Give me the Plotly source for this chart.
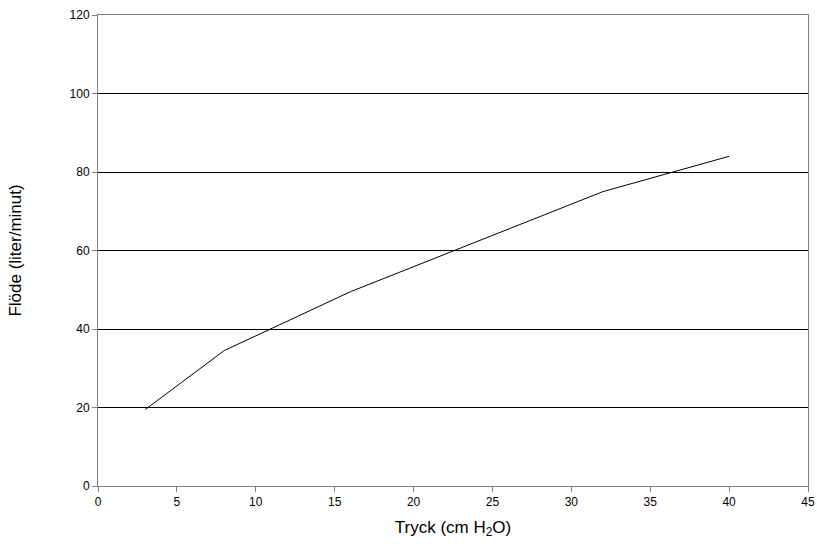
import plotly.graph_objects as go

tryck = [3, 8, 16, 32, 40]
flode = [19.5, 34.5, 49.5, 75, 84]

x_ticks = [0, 5, 10, 15, 20, 25, 30, 35, 40, 45]
y_ticks = [0, 20, 40, 60, 80, 100, 120]

fig = go.Figure()

fig.add_trace(go.Scatter(
    x=tryck,
    y=flode,
    mode='lines',
    line=dict(color='black', width=1),
    showlegend=False,
))

fig.update_layout(
    width=817,
    height=544,
    paper_bgcolor='white',
    plot_bgcolor='white',
    font=dict(family='Liberation Sans, Arial, sans-serif', color='black', size=12),
    margin=dict(l=98, r=9, t=15, b=58, autoexpand=False),
    xaxis=dict(
        range=[0, 45],
        tickvals=x_ticks,
        showgrid=False,
        zeroline=False,
        showline=True,
        linecolor='#808080',
        linewidth=1,
        mirror=True,
        ticks='outside',
        ticklen=5,
        tickcolor='#808080',
        title=dict(text='Tryck (cm H<sub>2</sub>O)', font=dict(size=17), standoff=12),
    ),
    yaxis=dict(
        range=[0, 120],
        tickvals=y_ticks,
        showgrid=True,
        gridcolor='black',
        gridwidth=1,
        zeroline=False,
        showline=True,
        linecolor='#808080',
        linewidth=1,
        mirror=True,
        ticks='outside',
        ticklen=5,
        tickcolor='#808080',
        title=dict(text='Flöde (liter/minut)', font=dict(size=17), standoff=43),
    ),
)

# drop the page's default body margin so the figure sits at the window's corner
fig.write_html("out.html", config={'displayModeBar': False},
               post_script="document.body.style.margin='0';")
